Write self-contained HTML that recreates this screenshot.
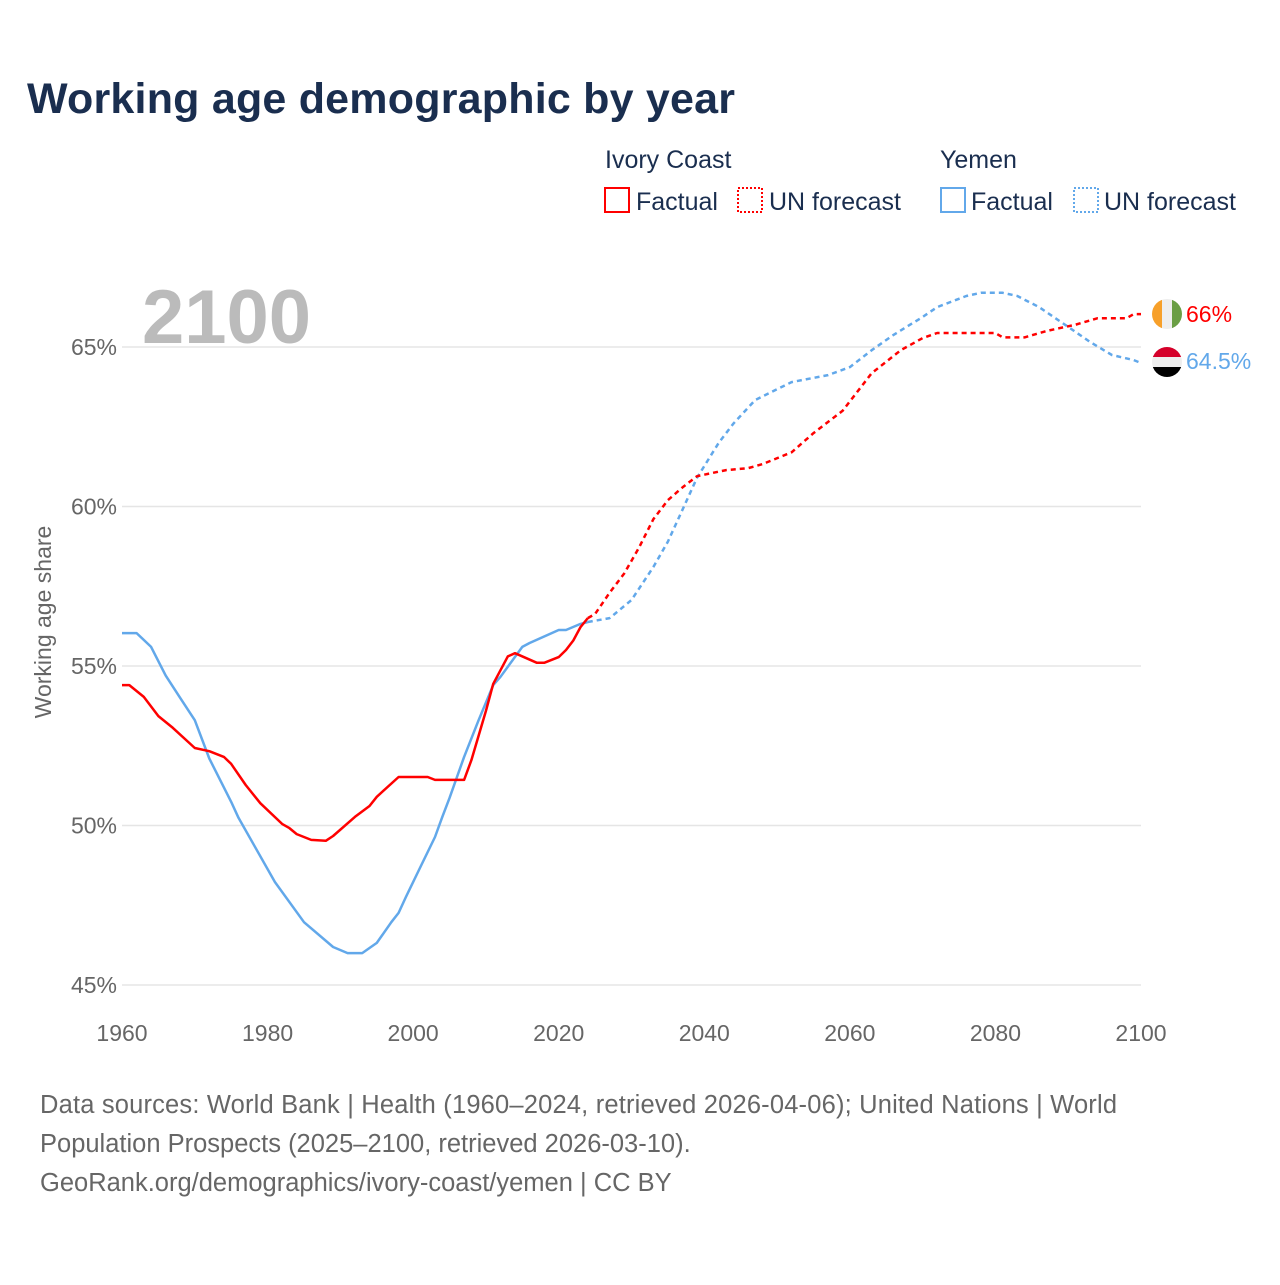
<!DOCTYPE html>
<html><head><meta charset="utf-8"><style>
body{margin:0;background:#fff;font-family:"Liberation Sans",sans-serif}
svg text{font-family:"Liberation Sans",sans-serif}
</style></head><body>
<svg width="1280" height="1280" viewBox="0 0 1280 1280">
<text x="27" y="113" font-size="43" font-weight="bold" fill="#1a2e4f" textLength="708">Working age demographic by year</text>
<g font-size="25" fill="#1a2e4f">
<text x="605" y="168">Ivory Coast</text>
<rect x="605" y="188" width="24" height="24" fill="none" stroke="#f00" stroke-width="2"/>
<text x="636" y="210">Factual</text>
<rect x="738" y="188" width="24" height="24" fill="none" stroke="#f00" stroke-width="2" stroke-dasharray="2,2"/>
<text x="769" y="210">UN forecast</text>
<text x="940" y="168">Yemen</text>
<rect x="941" y="188" width="24" height="24" fill="none" stroke="#62a8ea" stroke-width="2"/>
<text x="971" y="210">Factual</text>
<rect x="1074" y="188" width="24" height="24" fill="none" stroke="#62a8ea" stroke-width="2" stroke-dasharray="2,2"/>
<text x="1104" y="210">UN forecast</text>
</g>
<g id="grid"></g>
<text x="142" y="343" font-size="76" font-weight="bold" fill="#bbb">2100</text>
<text transform="translate(51,622) rotate(-90)" text-anchor="middle" font-size="23" fill="#666">Working age share</text>
<g id="lines"></g>
<g>
<clipPath id="c1"><circle cx="1167" cy="314" r="15"/></clipPath>
<g clip-path="url(#c1)"><rect x="1152" y="299" width="10" height="30" fill="#f7a02a"/><rect x="1162" y="299" width="10" height="30" fill="#eee"/><rect x="1172" y="299" width="10" height="30" fill="#6a9e45"/></g>
</g>
<g>
<clipPath id="c2"><circle cx="1167" cy="362" r="15"/></clipPath>
<g clip-path="url(#c2)"><rect x="1152" y="347" width="30" height="10" fill="#d5002a"/><rect x="1152" y="357" width="30" height="10" fill="#eee"/><rect x="1152" y="367" width="30" height="10" fill="#000"/></g>
</g>
<text x="1186" y="322" font-size="23" fill="#f00">66%</text>
<text x="1186" y="369" font-size="23" fill="#62a8ea">64.5%</text>
<g font-size="25.5" fill="#666">
<text x="40" y="1113" textLength="1077">Data sources: World Bank | Health (1960–2024, retrieved 2026-04-06); United Nations | World</text>
<text x="40" y="1152">Population Prospects (2025–2100, retrieved 2026-03-10).</text>
<text x="40" y="1191">GeoRank.org/demographics/ivory-coast/yemen | CC BY</text>
</g>
</svg>
<script>
const yTicks=[45,50,55,60,65];
const xTicks=[1960,1980,2000,2020,2040,2060,2080,2100];
const icYears=[1960,1961,1963,1965,1967,1970,1972,1974,1975,1977,1979,1982,1983,1984,1986,1988,1989,1992,1994,1995,1998,2002,2003,2007,2008,2010,2011,2013,2014,2017,2018,2020,2021,2022,2023,2024];
const icValues=[54.4,54.4,54.03,53.43,53.06,52.43,52.33,52.15,51.93,51.27,50.7,50.05,49.92,49.73,49.55,49.52,49.67,50.27,50.61,50.9,51.52,51.52,51.43,51.43,52.05,53.59,54.44,55.3,55.4,55.1,55.1,55.28,55.5,55.8,56.22,56.5];
const icFcYears=[2024,2025,2027,2029,2031,2033,2035,2037,2039,2043,2046,2048,2052,2055,2059,2063,2067,2070,2072,2076,2080,2081,2084,2087,2091,2094,2098,2099,2100];
const icFcValues=[56.5,56.63,57.3,57.9,58.7,59.6,60.2,60.6,60.95,61.14,61.2,61.33,61.7,62.3,63.0,64.18,64.9,65.28,65.44,65.44,65.44,65.3,65.3,65.5,65.7,65.9,65.9,66.03,66.03];
const yeYears=[1960,1962,1964,1966,1968,1970,1972,1975,1976,1981,1985,1989,1991,1993,1995,1997,1998,1999,2001,2003,2004,2005,2007,2009,2011,2012,2015,2016,2020,2021,2023,2024];
const yeValues=[56.03,56.03,55.6,54.7,54.0,53.3,52.1,50.74,50.24,48.23,46.97,46.19,46.0,46.0,46.32,46.97,47.26,47.76,48.7,49.64,50.27,50.86,52.15,53.3,54.4,54.66,55.6,55.72,56.13,56.13,56.32,56.38];
const yeFcYears=[2024,2027,2030,2033,2035,2037,2039,2042,2044,2047,2052,2055,2057,2060,2063,2066,2070,2072,2076,2078,2081,2083,2086,2090,2093,2096,2099,2100];
const yeFcValues=[56.38,56.5,57.07,58.1,58.9,59.9,60.9,62.0,62.6,63.34,63.9,64.03,64.12,64.37,64.9,65.38,65.94,66.25,66.6,66.7,66.7,66.6,66.25,65.63,65.16,64.75,64.59,64.5];
const NS="http://www.w3.org/2000/svg";
const x=y=>122+(y-1960)*(1141-122)/140;
const yS=v=>985-(v-45)*(985-347)/20;
const grid=document.getElementById('grid');
yTicks.forEach(t=>{
 const l=document.createElementNS(NS,'line');
 l.setAttribute('x1',122);l.setAttribute('x2',1141);l.setAttribute('y1',yS(t));l.setAttribute('y2',yS(t));
 l.setAttribute('stroke','#e5e5e5');l.setAttribute('stroke-width','1.5');
 
 
 grid.appendChild(l);
 const tx=document.createElementNS(NS,'text');
 tx.setAttribute('x',117);tx.setAttribute('y',yS(t)+8);tx.setAttribute('text-anchor','end');
 tx.setAttribute('font-size','23');tx.setAttribute('fill','#666');tx.textContent=t+'%';
 
 
 grid.appendChild(tx);
});
xTicks.forEach(t=>{
 const tx=document.createElementNS(NS,'text');
 tx.setAttribute('x',x(t));tx.setAttribute('y',1041);tx.setAttribute('text-anchor','middle');
 tx.setAttribute('font-size','23');tx.setAttribute('fill','#666');tx.textContent=t;
 
 
 grid.appendChild(tx);
});
const lines=document.getElementById('lines');
function draw(ys,vs,color,dash,name){
 const p=document.createElementNS(NS,'polyline');
 p.setAttribute('points',ys.map((yy,i)=>x(yy).toFixed(1)+','+yS(vs[i]).toFixed(1)).join(' '));
 p.setAttribute('fill','none');p.setAttribute('stroke',color);p.setAttribute('stroke-width','2.5');
 p.setAttribute('stroke-linejoin','round');
 if(dash)p.setAttribute('stroke-dasharray',dash);
 
 
 lines.appendChild(p);
}
draw(yeYears,yeValues,'#62a8ea',null,'yemen-factual-line');
draw(yeFcYears,yeFcValues,'#62a8ea','5,4','yemen-forecast-line');
draw(icYears,icValues,'#f00',null,'ivory-coast-factual-line');
draw(icFcYears,icFcValues,'#f00','5,4','ivory-coast-forecast-line');
</script>
</body></html>
